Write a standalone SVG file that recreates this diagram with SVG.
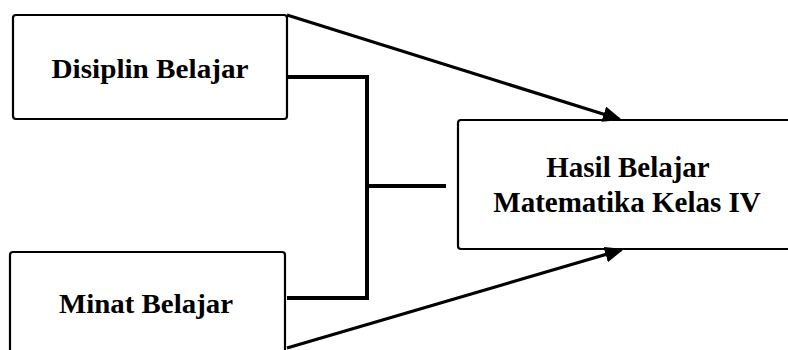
<svg xmlns="http://www.w3.org/2000/svg" width="788" height="350" viewBox="0 0 788 350">
<defs>
<style>
.box{fill:#fff;stroke:#000;stroke-width:2.2}
.t{font-family:"Liberation Serif","Times New Roman",serif;font-weight:bold;font-size:29px;fill:#000;text-anchor:middle}
.s{font-size:27px}
.br{fill:none;stroke:#000;stroke-width:4}
.ar{fill:none;stroke:#000;stroke-width:3.2}
</style>
<marker id="ah" markerWidth="6" markerHeight="5" refX="5" refY="2.5" orient="auto" markerUnits="strokeWidth">
<path d="M0,0 L6,2.5 L0,5 Z" fill="#000"/>
</marker>
</defs>
<rect width="788" height="350" fill="#fff"/>
<g id="node-disiplin">
<rect class="box" x="13" y="15" width="274" height="104" rx="3"/>
<text class="t s" x="150" y="78" textLength="197" lengthAdjust="spacingAndGlyphs">Disiplin Belajar</text>
</g>
<g id="node-minat">
<rect class="box" x="10" y="252" width="275" height="120" rx="3"/>
<text class="t s" x="146" y="313" textLength="174" lengthAdjust="spacingAndGlyphs">Minat Belajar</text>
</g>
<g id="node-hasil">
<rect class="box" x="458" y="120" width="345" height="129" rx="3"/>
<text class="t" x="628" y="177">Hasil Belajar</text>
<text class="t" x="627" y="212">Matematika Kelas IV</text>
</g>
<g id="connectors">
<polyline class="br" points="287,77 367,77 367,298 287,298"/>
<line class="br" x1="367" y1="186" x2="446" y2="186"/>
<line class="ar" x1="287" y1="15" x2="619" y2="119" marker-end="url(#ah)"/>
<line class="ar" x1="287" y1="348" x2="621" y2="250" marker-end="url(#ah)"/>
</g>
</svg>
